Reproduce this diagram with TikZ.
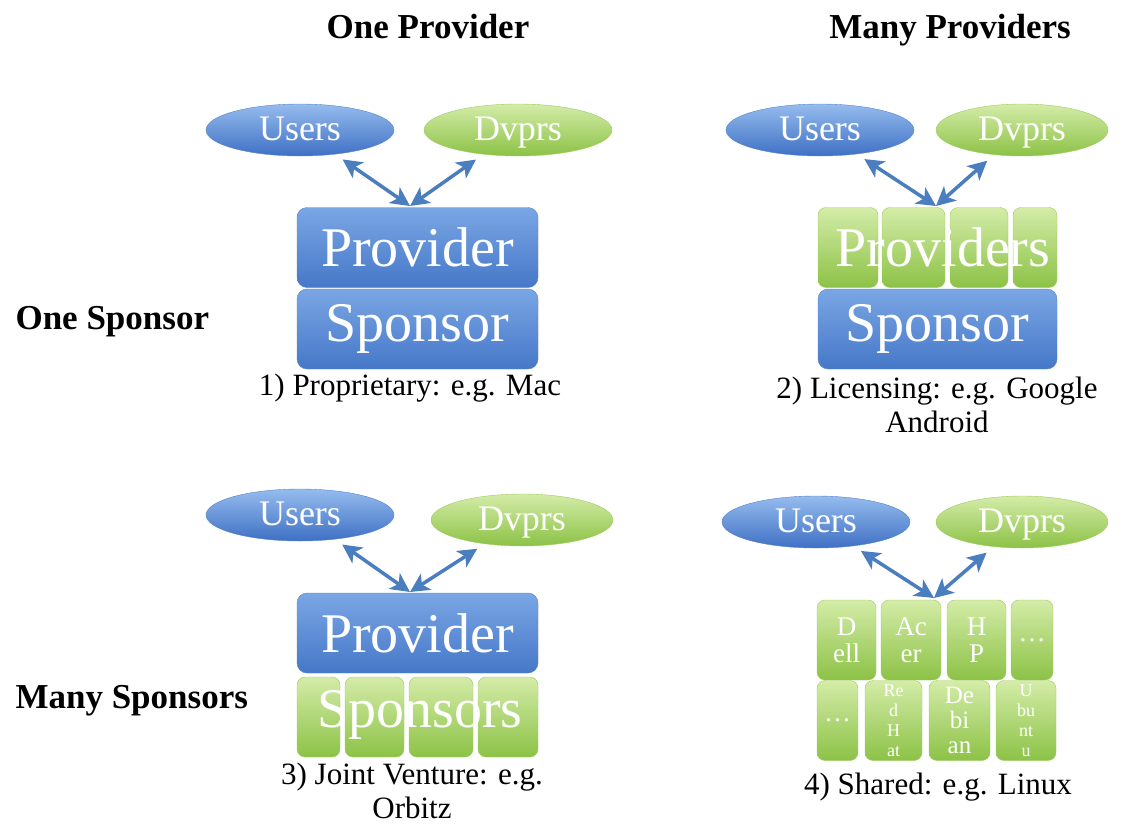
\documentclass[tikz,border=0pt]{standalone}
\usepackage{fontspec}
\setmainfont{Liberation Serif}
\usetikzlibrary{arrows.meta, shapes.geometric, positioning}
\definecolor{ovaltop}{RGB}{150,188,238}
\definecolor{ovalbot}{RGB}{62,112,196}
\definecolor{boxtop}{RGB}{122,166,228}
\definecolor{boxbot}{RGB}{70,120,200}
\definecolor{blueline}{RGB}{88,132,200}
\definecolor{greentop}{RGB}{212,236,168}
\definecolor{greenbot}{RGB}{140,194,70}
\definecolor{greenline}{RGB}{158,204,96}
\definecolor{arrowblue}{RGB}{74,126,190}
\tikzset{
  oval/.style = {ellipse, minimum width=188pt, minimum height=52pt, inner sep=0pt,
    text=white, text height=23pt, text depth=2pt, font=\fontsize{36}{38}\selectfont},
  blueoval/.style = {oval, draw=blueline, top color=ovaltop, bottom color=ovalbot},
  greenoval/.style = {oval, draw=greenline, top color=greentop, bottom color=greenbot},
  bluebox/.style = {rounded corners=10pt, draw=blueline, top color=boxtop, bottom color=boxbot,
    minimum width=241pt, minimum height=80pt, text=white, font=\fontsize{56}{60}\selectfont},
  tile/.style = {rounded corners=8pt, draw=greenline, top color=greentop, bottom color=greenbot,
    minimum height=80pt, inner sep=0pt},
  bigtext/.style = {text=white, font=\fontsize{56}{60}\selectfont},
  tiletext/.style = {text=white, align=center, inner sep=0pt},
  head/.style = {text height=24pt, text depth=2pt, font=\fontsize{35}{40}\selectfont\bfseries},
  caption/.style = {align=center, font=\fontsize{31}{34}\selectfont},
  link/.style = {{Stealth[length=19pt,width=19pt,inset=5pt]}-{Stealth[length=19pt,width=19pt,inset=5pt]},
    line width=3.5pt, draw=arrowblue, shorten <=9pt}
}

\begin{document}
\begin{tikzpicture}[x=1pt, y=-1pt]
\useasboundingbox (0,0) rectangle (1127,835);
% headings
\node [head] (h1) at (428,27) {One Provider};
\node [head] (h2) at (950,27) {Many Providers};
\node [head, anchor=west] (r1) at (12,318) {One Sponsor};
\node [head, anchor=west] (r2) at (12,697) {Many Sponsors};
% 1) one provider, one sponsor
\node [blueoval] (u1) at (300,130) {Users};
\node [greenoval] (d1) at (518,130) {Dvprs};
\node [bluebox] (prov1) at (417.5,247.5) {Provider};
\node [bluebox] (spon1) at (417.5,329) {Sponsor};
\coordinate (m1) at (410,206);
\draw [link] (u1) -- (m1);
\draw [link] (d1) -- (m1);
\node [caption] (c1) at (410,388) {1) Proprietary: e.g. Mac};
% 2) many providers, one sponsor
\node [blueoval] (u2) at (820,130) {Users};
\node [greenoval, minimum width=172pt] (d2) at (1022,130) {Dvprs};
\foreach \cx/\w [count=\i] in {848/60pt, 913.5/63pt, 979/58pt, 1035/44pt}
  \node [tile, minimum width=\w] (pv\i) at (\cx,247.5) {};
\node [bigtext] (pvt) at (943,247) {Providers};
\node [bluebox, minimum width=239pt] (spon2) at (937.5,329) {Sponsor};
\coordinate (m2) at (936,206);
\draw [link] (u2) -- (m2);
\draw [link] (d2) -- (m2);
\node [caption] (c2) at (937,405) {2) Licensing: e.g. Google\\Android};
% 3) one provider, many sponsors
\node [blueoval] (u3) at (300,515) {Users};
\node [greenoval, minimum width=182pt] (d3) at (522,520) {Dvprs};
\node [bluebox] (prov3) at (417.5,633) {Provider};
\foreach \cx/\w [count=\i] in {318.5/43pt, 374.5/59pt, 441/64pt, 508/60pt}
  \node [tile, minimum width=\w] (sp\i) at (\cx,717) {};
\node [bigtext] (spt) at (420,715) {Sponsors};
\coordinate (m3) at (410,592);
\draw [link] (u3) -- (m3);
\draw [link] (d3) -- (m3);
\node [caption] (c3) at (412,791) {3) Joint Venture: e.g.\\Orbitz};
% 4) many providers, many sponsors
\node [blueoval] (u4) at (816,522) {Users};
\node [greenoval, minimum width=172pt] (d4) at (1022,522) {Dvprs};
\foreach \cx/\w/\t [count=\i] in {846.5/59pt/{D\\ell}, 911/60pt/{Ac\\er}, 976.5/59pt/{H\\P}, 1032/42pt/{\ldots}}
  \node [tile, minimum width=\w] (a\i) at (\cx,640) {}
    node [tiletext, font=\fontsize{27}{27}\selectfont] at (a\i) {\t};
\foreach \cx/\w/\t/\fz/\ls [count=\i] in {837.5/41pt/{\ldots}/27/27, 893.5/57pt/{Re\\d\\H\\at}/18/20,
    959.5/61pt/{De\\bi\\an}/25/25, 1026/60pt/{U\\bu\\nt\\u}/18/20}
  \node [tile, minimum width=\w] (b\i) at (\cx,720.5) {}
    node [tiletext, font=\fontsize{\fz}{\ls}\selectfont] at (b\i) {\t};
\coordinate (m4) at (934,598);
\draw [link] (u4) -- (m4);
\draw [link] (d4) -- (m4);
\node [caption] (c4) at (938,787) {4) Shared: e.g. Linux};
\end{tikzpicture}
\end{document}
